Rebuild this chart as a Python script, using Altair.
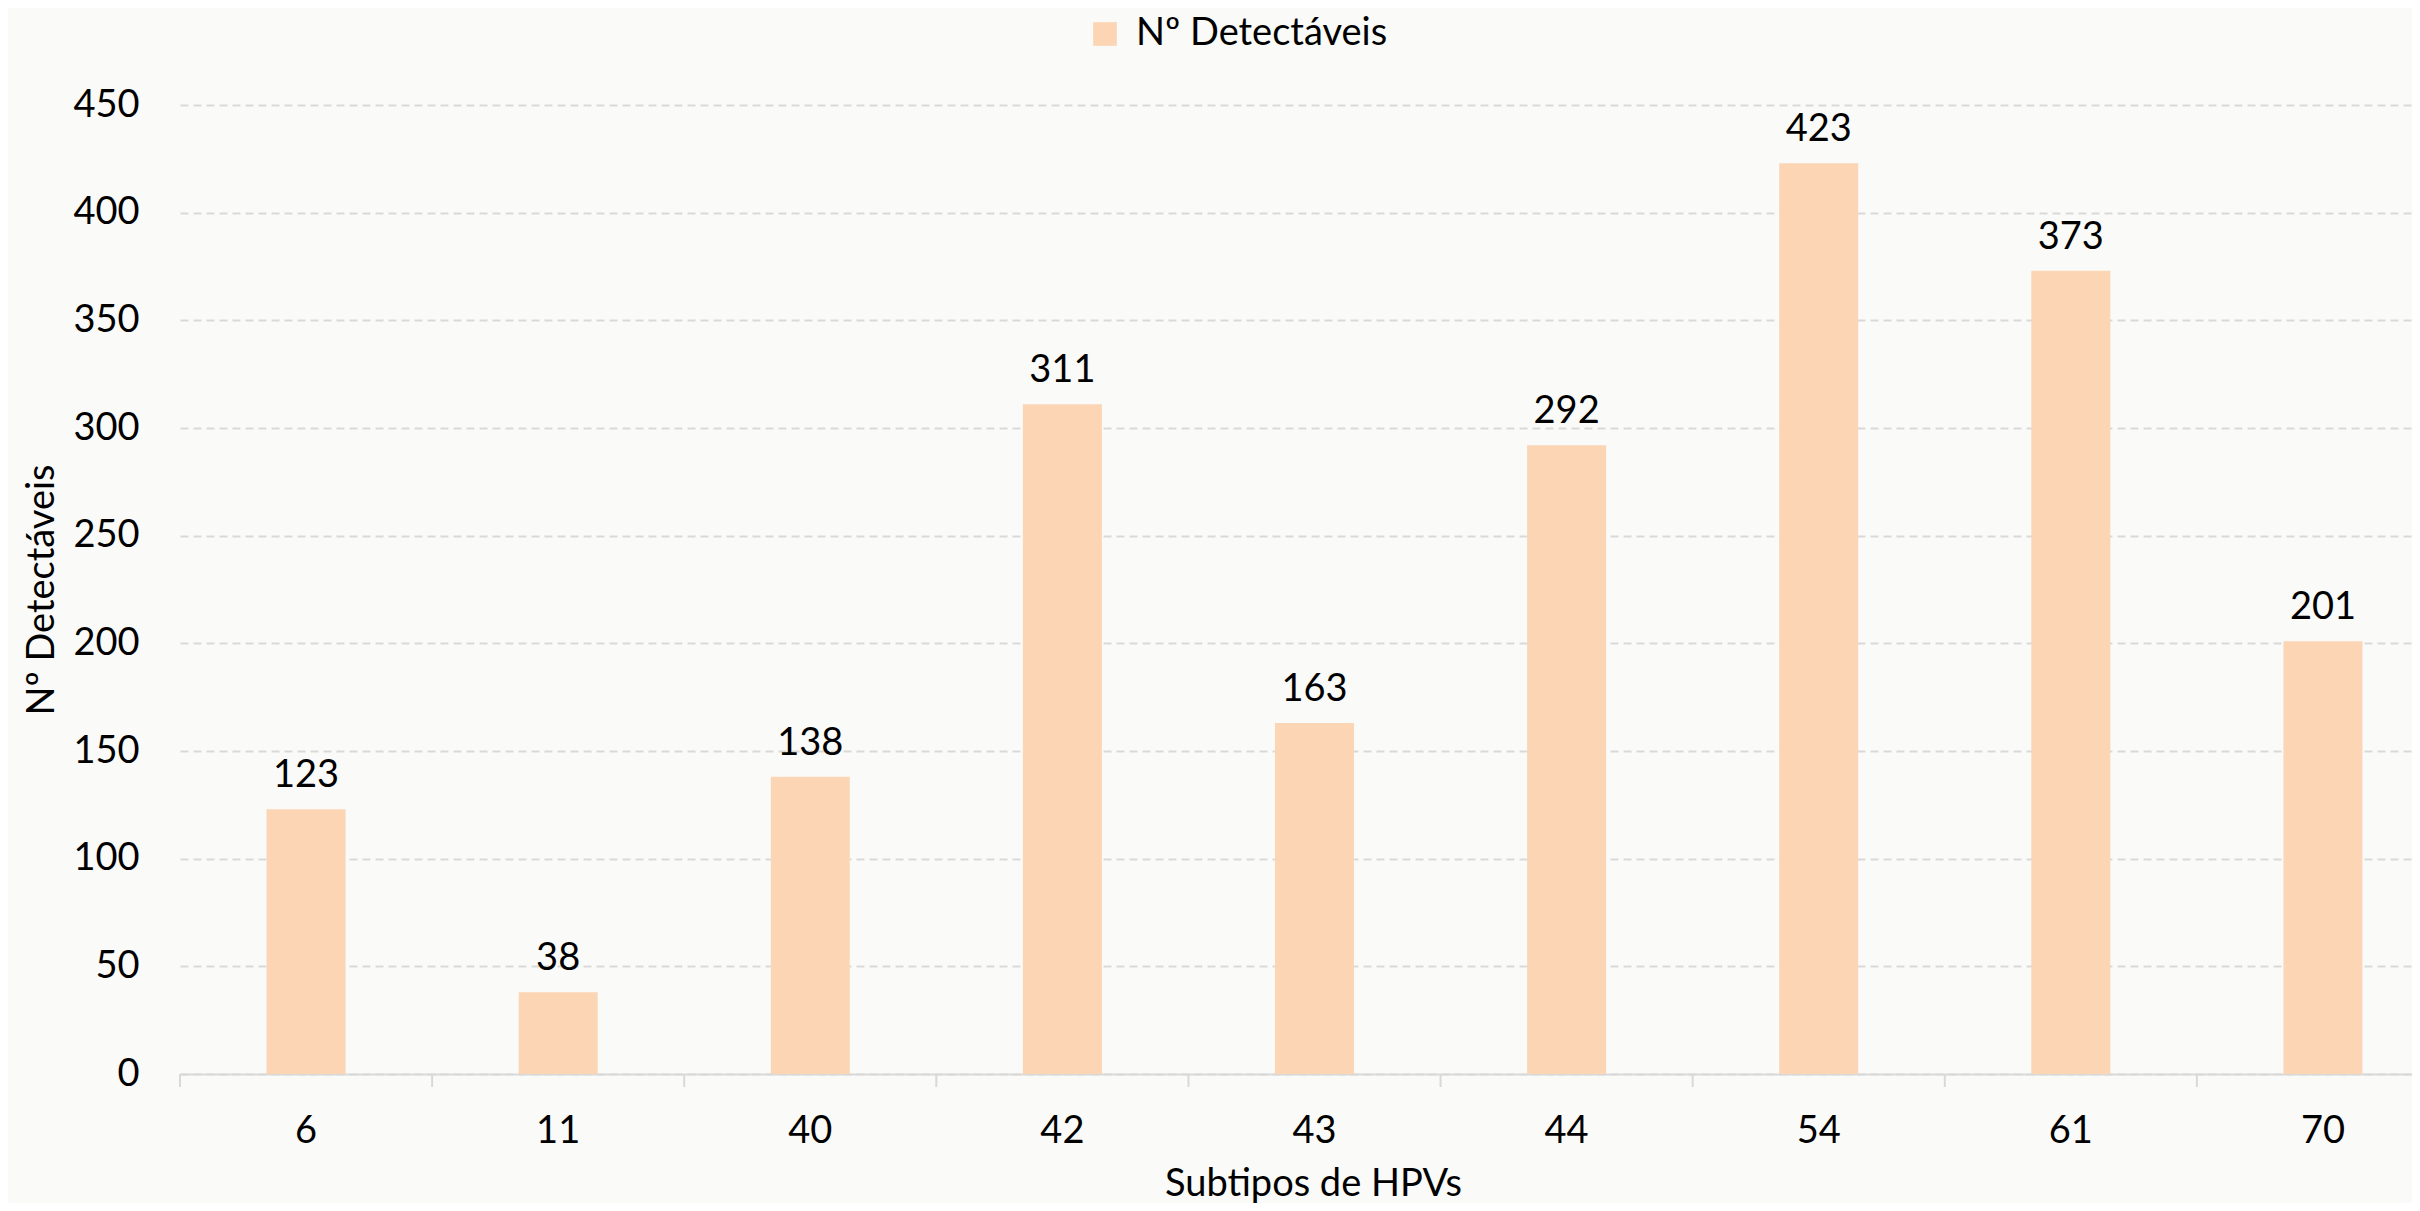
import altair as alt
import pandas as pd

categories = ["6", "11", "40", "42", "43", "44", "54", "61", "70"]
values = [123, 38, 138, 311, 163, 292, 423, 373, 201]
series_name = "Nº Detectáveis"
y_ticks = [0, 50, 100, 150, 200, 250, 300, 350, 400, 450]

df = pd.DataFrame({
    "subtipo": categories,
    "valor": values,
    "serie": [series_name] * len(categories),
})

FONT = "Lato"
FS = 38
W = 2232
H = 969
BAND_RANGE = [0, 2269]

x_enc = alt.X(
    "subtipo:N",
    sort=categories,
    scale=alt.Scale(range=BAND_RANGE, paddingInner=0, paddingOuter=0),
    axis=alt.Axis(
        title="Subtipos de HPVs",
        labelAngle=0,
        labelFont=FONT, labelFontSize=FS, labelColor="#000000",
        labelBaseline="alphabetic", labelPadding=68,
        ticks=False, grid=False,
        domainColor="#D9D9D9", domainWidth=2,
        titleFont=FONT, titleFontSize=FS, titleFontWeight="normal", titleColor="#000000",
        titleX=1133, titleY=121, titleBaseline="alphabetic", titleAlign="center",
    ),
)

y_enc = alt.Y(
    "valor:Q",
    scale=alt.Scale(domain=[0, 450], nice=False),
    axis=alt.Axis(
        title=series_name,
        values=y_ticks,
        labelFont=FONT, labelFontSize=FS, labelColor="#000000", labelPadding=41,
        ticks=False, domain=False,
        grid=True, gridColor="#D9D9D9", gridWidth=2, gridDash=[8, 5],
        titleFont=FONT, titleFontSize=FS, titleFontWeight="normal", titleColor="#000000",
        titleX=-138, titleY=H / 2, titleAlign="center", titleBaseline="middle", titleAngle=270,
    ),
)

bars = alt.Chart(df).mark_bar(width=79).encode(
    x=x_enc,
    y=y_enc,
    color=alt.Color(
        "serie:N",
        scale=alt.Scale(range=["#FCD5B5"]),
        legend=alt.Legend(
            title=None, orient="none", legendX=906, legendY=-90,
            symbolType="square", symbolSize=560, symbolStrokeWidth=0,
            labelFont=FONT, labelFontSize=FS, labelColor="#000000", labelOffset=12,
            labelLimit=0, padding=0,
        ),
    ),
)

labels = alt.Chart(df).mark_text(
    font=FONT, fontSize=FS, color="#000000", baseline="alphabetic", dy=-22
).encode(
    x=alt.X("subtipo:N", sort=categories),
    y="valor:Q",
    text="valor:Q",
)

ticks = alt.Chart(df).mark_rule(color="#D9D9D9", strokeWidth=2).encode(
    x=alt.X("subtipo:N", sort=categories, bandPosition=0),
    y=alt.value(H),
    y2=alt.value(H + 13),
)

chart = alt.layer(bars, ticks, labels).properties(
    width=W,
    height=H,
    background="#FAFAF9",
    autosize=alt.AutoSizeParams(type="none"),
    padding={"left": 172, "top": 97, "right": 0, "bottom": 129},
).configure_view(stroke=None)

chart.save("out.html", embed_options={"renderer": "svg", "actions": False})
